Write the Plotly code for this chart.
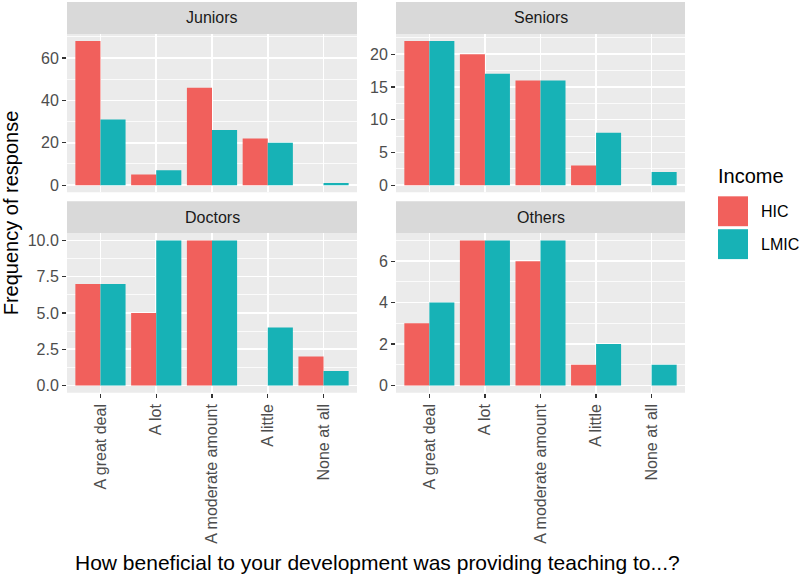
import plotly.graph_objects as go

# ---------------- data ----------------
categories = ["A great deal", "A lot", "A moderate amount", "A little", "None at all"]
groups = ["Juniors", "Seniors", "Doctors", "Others"]
incomes = ["HIC", "LMIC"]

juniors_hic = [68, 5, 46, 22, 0]
juniors_lmic = [31, 7, 26, 20, 1]
seniors_hic = [22, 20, 16, 3, 0]
seniors_lmic = [22, 17, 16, 8, 2]
doctors_hic = [7, 5, 10, 0, 2]
doctors_lmic = [7, 10, 10, 4, 1]
others_hic = [3, 7, 6, 1, 0]
others_lmic = [4, 7, 7, 2, 1]

y_major_dtick = [20, 5, 2.5, 2]
y_tickformat = ["d", "d", ".1f", "d"]

series = {
    "Juniors": (juniors_hic, juniors_lmic),
    "Seniors": (seniors_hic, seniors_lmic),
    "Doctors": (doctors_hic, doctors_lmic),
    "Others": (others_hic, others_lmic),
}

colors = {"HIC": "#F1605C", "LMIC": "#17B2B6"}

W, H = 800, 577
FONT = "Liberation Sans, Arial, sans-serif"
SMALL = 16
BIG = 20

def px_x(v):
    return v / W

def px_y(v):
    return 1 - v / H

# panel geometry (pixels)
cols = [(67, 357), (396, 685)]
rows = [(33, 192), (233, 393)]
strips = [(1, 33), (201, 233)]

fig = go.Figure()

for i, g in enumerate(groups):
    r, c = divmod(i, 2)
    ax = "" if i == 0 else str(i + 1)
    hic, lmic = series[g]
    for name, vals in zip(incomes, (hic, lmic)):
        fig.add_trace(go.Bar(
            x=categories, y=vals, name=name,
            marker=dict(color=colors[name], line=dict(width=0)),
            offsetgroup=name, showlegend=False,
            xaxis="x" + ax, yaxis="y" + ax,
        ))
    ymax = max(max(hic), max(lmic))
    pad = ymax * 0.05
    x0, x1 = cols[c]
    y0, y1 = rows[r]
    fig.layout["xaxis" + ax] = dict(
        domain=[px_x(x0), px_x(x1)],
        anchor="y" + ax,
        type="category",
        categoryorder="array", categoryarray=categories,
        range=[-0.6, 4.6],
        showgrid=True, gridcolor="white", gridwidth=1.6,
        zeroline=False, showline=False,
        showticklabels=(r == 1),
        ticks="outside" if r == 1 else "",
        ticklen=4, tickwidth=1.2, tickcolor="#333333",
        tickangle=-90,
        tickfont=dict(family=FONT, size=SMALL, color="#4D4D4D"),
        fixedrange=True,
    )
    fig.layout["yaxis" + ax] = dict(
        domain=[px_y(y1), px_y(y0)],
        anchor="x" + ax,
        range=[-pad, ymax + pad],
        dtick=y_major_dtick[i], tick0=0,
        tickformat=y_tickformat[i],
        showgrid=True, gridcolor="white", gridwidth=1.6,
        minor=dict(showgrid=True, gridcolor="white", gridwidth=0.8,
                   dtick=y_major_dtick[i] / 2, tick0=0),
        zeroline=False, showline=False,
        ticks="outside", ticklen=4, tickwidth=1.2, tickcolor="#333333",
        tickfont=dict(family=FONT, size=SMALL, color="#4D4D4D"),
        fixedrange=True,
    )

shapes = []
annotations = []

# panel backgrounds & strips
for i, g in enumerate(groups):
    r, c = divmod(i, 2)
    x0, x1 = cols[c]
    y0, y1 = rows[r]
    shapes.append(dict(type="rect", xref="paper", yref="paper",
                       x0=px_x(x0), x1=px_x(x1), y0=px_y(y1), y1=px_y(y0),
                       fillcolor="#EBEBEB", line=dict(width=0), layer="below"))
    s0, s1 = strips[r]
    shapes.append(dict(type="rect", xref="paper", yref="paper",
                       x0=px_x(x0), x1=px_x(x1), y0=px_y(s1), y1=px_y(s0),
                       fillcolor="#D9D9D9", line=dict(width=0), layer="below"))
    annotations.append(dict(text=g, xref="paper", yref="paper",
                            x=px_x((x0 + x1) / 2), y=px_y((s0 + s1) / 2),
                            xanchor="center", yanchor="middle", showarrow=False,
                            font=dict(family=FONT, size=SMALL, color="#1A1A1A")))

# axis titles
annotations.append(dict(text="Frequency of response", xref="paper", yref="paper",
                        x=px_x(11), y=px_y(213), textangle=-90,
                        xanchor="center", yanchor="middle", showarrow=False,
                        font=dict(family=FONT, size=BIG, color="black")))
annotations.append(dict(text="How beneficial to your development was providing teaching to...?",
                        xref="paper", yref="paper",
                        x=px_x(377), y=px_y(563),
                        xanchor="center", yanchor="middle", showarrow=False,
                        font=dict(family=FONT, size=21, color="black")))

# legend
annotations.append(dict(text="Income", xref="paper", yref="paper",
                        x=px_x(716), y=px_y(176), xanchor="left", yanchor="middle",
                        showarrow=False, font=dict(family=FONT, size=BIG, color="black")))
for k, (name, (ky0, ky1)) in enumerate(zip(incomes, [(196, 226), (229, 259)])):
    shapes.append(dict(type="rect", xref="paper", yref="paper",
                       x0=px_x(718), x1=px_x(748), y0=px_y(ky1), y1=px_y(ky0),
                       fillcolor=colors[name], line=dict(width=0)))
    annotations.append(dict(text=name, xref="paper", yref="paper",
                            x=px_x(759), y=px_y((ky0 + ky1) / 2),
                            xanchor="left", yanchor="middle", showarrow=False,
                            font=dict(family=FONT, size=SMALL, color="black")))

fig.update_layout(
    width=W, height=H, autosize=False,
    margin=dict(l=0, r=0, t=0, b=0),
    paper_bgcolor="white", plot_bgcolor="rgba(0,0,0,0)",
    barmode="group", bargap=0.1, bargroupgap=0,
    shapes=shapes, annotations=annotations,
    showlegend=False,
    font=dict(family=FONT),
    hovermode=False,
)

fig.write_html(
    "out.html",
    config={"displayModeBar": False, "staticPlot": True},
    post_script="document.body.style.margin='0';document.body.style.padding='0';document.body.style.overflow='hidden';",
)
